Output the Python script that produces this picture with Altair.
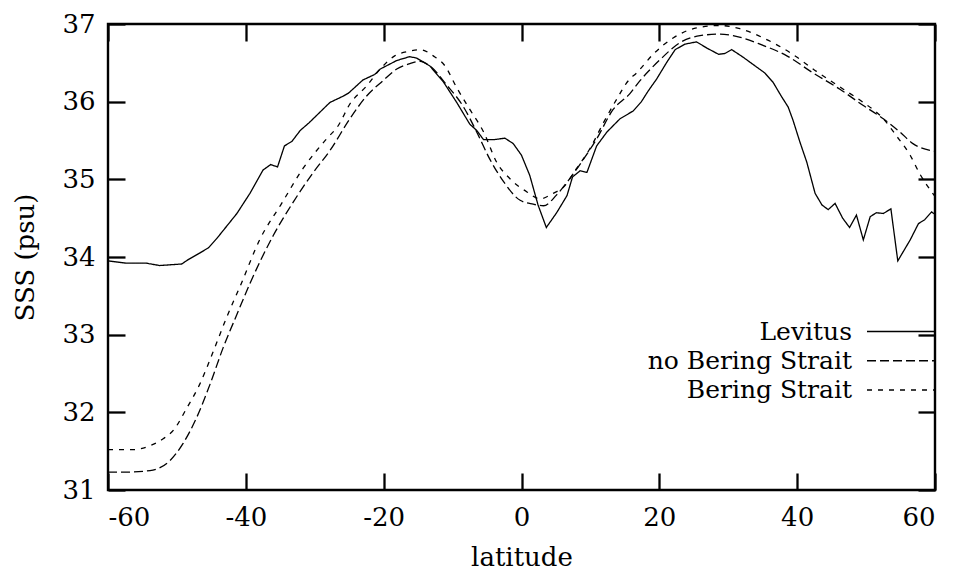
import altair as alt
import pandas as pd

# ---------------- data ----------------
series_names = ["Levitus", "no Bering Strait", "Bering Strait"]

lev_lat = [-60, -57.3, -54.4, -52.5, -49.3, -48.3, -46.7, -45.4, -44.2, -41.3,
           -39.4, -37.5, -36.4, -35.4, -34.4, -33.3, -32.1, -30.8, -27.8, -25.9,
           -25.1, -23.0, -21.3, -20.5, -18.1, -16.2, -15.2, -13.3, -11.3, -9.4,
           -7.5, -6.5, -5.5, -4.1, -2.4, -1.2, 0.0, 1.2, 2.4, 3.6,
           5.1, 6.6, 7.4, 8.5, 9.5, 10.9, 12.4, 14.3, 16.2, 17.4,
           18.4, 19.6, 21.1, 22.3, 23.7, 25.4, 26.9, 28.6, 29.5, 30.5,
           32.2, 33.9, 35.3, 36.5, 37.7, 38.7, 39.4, 40.4, 41.4, 42.6,
           43.6, 44.5, 45.5, 46.6, 47.6, 48.6, 49.6, 50.6, 51.5, 52.5,
           53.6, 54.6, 56.4, 57.6, 58.5, 59.5, 60]
lev_sss = [33.95, 33.92, 33.92, 33.89, 33.91, 33.97, 34.05, 34.12, 34.24, 34.56,
           34.82, 35.12, 35.19, 35.16, 35.43, 35.49, 35.63, 35.73, 35.99, 36.07,
           36.11, 36.28, 36.35, 36.42, 36.53, 36.58, 36.56, 36.46, 36.25, 35.99,
           35.71, 35.63, 35.51, 35.51, 35.53, 35.46, 35.31, 35.05, 34.67, 34.38,
           34.57, 34.79, 35.03, 35.11, 35.09, 35.43, 35.61, 35.78, 35.88, 36.00,
           36.14, 36.29, 36.51, 36.67, 36.74, 36.77, 36.69, 36.61, 36.62, 36.67,
           36.57, 36.46, 36.37, 36.25, 36.07, 35.93, 35.76, 35.48, 35.22, 34.82,
           34.67, 34.61, 34.69, 34.50, 34.38, 34.54, 34.22, 34.52, 34.57, 34.56,
           34.62, 33.95, 34.22, 34.43, 34.48, 34.58, 34.55]

nob_lat = [-60, -57.5, -53.9, -51.0, -49.1, -47.1, -45.2, -43.3, -41.3, -39.4,
           -36.0, -33.1, -30.2, -27.8, -24.9, -22.5, -20.1, -18.1, -16.2, -14.7,
           -13.3, -10.9, -8.4, -6.5, -4.6, -2.6, -0.2, 1.7, 3.2, 5.1,
           7.0, 9.0, 10.9, 13.3, 15.7, 17.2, 20.1, 23.0, 25.9, 28.8,
           30.7, 34.6, 38.5, 42.3, 46.2, 49.6, 52.5, 54.9, 56.8, 60]
nob_sss = [31.23, 31.23, 31.25, 31.38, 31.60, 31.94, 32.36, 32.83, 33.26, 33.66,
           34.28, 34.71, 35.09, 35.37, 35.78, 36.07, 36.27, 36.42, 36.49, 36.52,
           36.46, 36.22, 35.93, 35.61, 35.26, 34.97, 34.73, 34.68, 34.66, 34.80,
           35.01, 35.26, 35.52, 35.90, 36.10, 36.27, 36.54, 36.76, 36.85, 36.87,
           36.85, 36.74, 36.59, 36.37, 36.16, 35.95, 35.78, 35.61, 35.46, 35.36]

ber_lat = [-60, -56.3, -53.9, -52.0, -50.5, -48.6, -46.7, -44.7, -42.8, -40.7,
           -38.0, -34.8, -31.7, -28.3, -26.6, -24.9, -22.5, -20.5, -18.4, -16.2,
           -14.7, -12.8, -11.1, -9.4, -7.5, -5.5, -3.6, -1.7, 0.75, 2.7,
           4.6, 6.1, 8.0, 9.9, 11.9, 13.8, 15.5, 16.7, 19.1, 22.0,
           25.4, 28.8, 31.7, 35.1, 39.0, 42.8, 46.7, 49.6, 52.5, 54.4,
           56.4, 57.8, 60]
ber_sss = [31.52, 31.52, 31.57, 31.66, 31.77, 32.05, 32.36, 32.79, 33.22, 33.65,
           34.22, 34.69, 35.14, 35.52, 35.69, 35.97, 36.20, 36.42, 36.59, 36.65,
           36.67, 36.59, 36.46, 36.18, 35.90, 35.61, 35.22, 35.01, 34.84, 34.75,
           34.82, 34.90, 35.14, 35.39, 35.73, 36.03, 36.27, 36.37, 36.61, 36.82,
           36.95, 36.98, 36.94, 36.82, 36.63, 36.39, 36.16, 35.99, 35.78, 35.56,
           35.31, 35.07, 34.78]

x_ticks = [-60, -40, -20, 0, 20, 40, 60]
y_ticks = [31, 32, 33, 34, 35, 36, 37]

# ---------------- tables ----------------
def table(name, lats, vals):
    return pd.DataFrame({"series": name, "lat": lats, "sss": vals,
                         "order": list(range(len(lats)))})

df_lev = table(series_names[0], lev_lat, lev_sss)
df_dash = pd.concat([table(series_names[1], nob_lat, nob_sss),
                     table(series_names[2], ber_lat, ber_sss)], ignore_index=True)
df_all = pd.concat([df_lev, df_dash], ignore_index=True)
df_key = pd.DataFrame({"series": series_names})

FONT = "DejaVu Serif"
W, H = 827, 466
TICK = alt.ExprRef(expr="-17")
HYPHEN = "datum.value < 0 ? '-' + abs(datum.value) : '' + datum.value"

xscale = alt.Scale(domain=[-60, 60], nice=False, zero=False)
yscale = alt.Scale(domain=[31, 37], nice=False, zero=False)
dash_scale = alt.Scale(domain=series_names, range=[[1, 0], [9, 4], [5, 6]])
key_scale = alt.Scale(type="point", domain=series_names, range=[307.5, 366],
                      padding=0)

axis_common = dict(values=x_ticks, domain=False, tickSize=TICK, tickWidth=2.3,
                   tickColor="black", grid=False)

x_main = alt.X("lat:Q", scale=xscale, axis=alt.Axis(
    orient="bottom", title="latitude", labelFont=FONT, labelFontSize=26,
    labelColor="black", labelPadding=31, labelExpr=HYPHEN,
    titleFont=FONT, titleFontSize=26,
    titleFontWeight="normal", titleColor="black", titleX=W / 2, titleY=75,
    titleBaseline="alphabetic", titleAlign="center", **axis_common))
y_main = alt.Y("sss:Q", scale=yscale, axis=alt.Axis(
    orient="left", title="SSS (psu)", values=y_ticks, domain=False,
    tickSize=TICK, tickWidth=2.3, tickColor="black", grid=False,
    labelFont=FONT, labelFontSize=26, labelColor="black", labelPadding=30,
    titleFont=FONT, titleFontSize=26, titleFontWeight="normal",
    titleColor="black", titleX=-75, titleY=H / 2, titleAngle=270,
    titleAlign="center", titleBaseline="alphabetic"))

lev_layer = alt.Chart(df_lev).mark_line(color="black", strokeWidth=1.3).encode(
    x=x_main, y=y_main,
    strokeDash=alt.StrokeDash("series:N", scale=dash_scale, legend=None),
    order="order:Q",
)

dash_layer = alt.Chart(df_dash).mark_line(
    color="black", strokeWidth=1.3, interpolate="monotone").encode(
    x=alt.X("lat:Q", scale=xscale, axis=None),
    y=alt.Y("sss:Q", scale=yscale, axis=None),
    strokeDash=alt.StrokeDash("series:N", scale=dash_scale, legend=None),
    order="order:Q",
)

mirror = alt.Chart(df_all).mark_line(strokeOpacity=0).encode(
    x=alt.X("lat:Q", scale=xscale, axis=alt.Axis(
        orient="top", labels=False, title=None, **axis_common)),
    y=alt.Y("sss:Q", scale=yscale, axis=alt.Axis(
        orient="right", labels=False, title=None, values=y_ticks, domain=False,
        tickSize=TICK, tickWidth=2.3, tickColor="black", grid=False)),
    detail="series:N",
    order="order:Q",
)

# key (legend) drawn from the series names
key_text = alt.Chart(df_key).mark_text(
    align="right", baseline="middle", font=FONT, fontSize=25,
    color="black").encode(
    x=alt.value(744),
    y=alt.Y("series:N", scale=key_scale, axis=None),
    text="series:N",
)
key_line = alt.Chart(df_key).mark_rule(color="black", strokeWidth=1.3).encode(
    x=alt.value(759), x2=alt.value(827),
    y=alt.Y("series:N", scale=key_scale, axis=None),
    strokeDash=alt.StrokeDash("series:N", scale=dash_scale, legend=None),
)

chart = alt.layer(lev_layer, dash_layer, mirror, key_text, key_line).resolve_axis(
    x="independent", y="independent"
).resolve_scale(
    y="independent"
).properties(
    width=W, height=H,
    autosize=alt.AutoSizeParams(type="none"),
    padding={"left": 100, "top": 16, "right": 15, "bottom": 82},
    background="white",
).configure_view(
    stroke="black", strokeWidth=2.4
)

chart.save("out.html", embed_options={"renderer": "svg", "actions": False})
